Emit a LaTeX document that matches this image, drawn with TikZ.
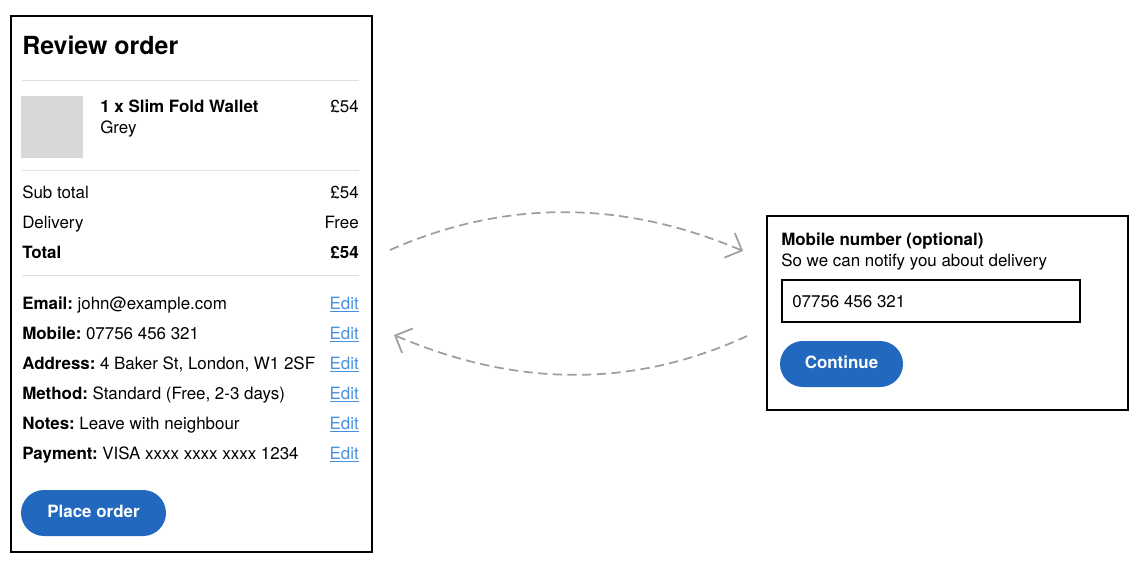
\documentclass[tikz,border=0pt]{standalone}
\usepackage{fontspec}
\setmainfont{TeX Gyre Heros}
\usetikzlibrary{arrows.meta}
\usetikzlibrary{positioning}

\definecolor{btnblue}{HTML}{2268BE}
\definecolor{linkblue}{HTML}{4A90E2}
\definecolor{rulegrey}{HTML}{E0E0E0}
\definecolor{imggrey}{HTML}{D8D8D8}
\definecolor{flowgrey}{HTML}{9E9E9E}

\tikzset{
  panel/.style={draw=black, line width=1.5pt, inner sep=0pt},
  txt/.style={inner sep=0pt, anchor=base west, font=\fontsize{12.7}{15}\selectfont},
  bold/.style={txt, font=\fontsize{12.7}{15}\selectfont\bfseries},
  val/.style={txt, anchor=base east},
  edit/.style={val, text=linkblue},
  sep/.style={draw=rulegrey, line width=0.75pt},
  btn/.style={fill=btnblue, text=white, rounded corners=17.25pt, minimum height=34.5pt, inner sep=0pt, text height=9pt, text depth=3pt, font=\fontsize{12.7}{15}\selectfont\bfseries},
  flow/.style={draw=flowgrey, line width=1.3pt, dash pattern=on 7pt off 4pt, -{Straight Barb[length=10pt,width=20pt]}}
}

\begin{document}
\begin{tikzpicture}[x=0.75pt, y=-0.75pt]
    \useasboundingbox (0,0) rectangle (1146,567);

    % review page
    \node (review) [panel, minimum width=270.75pt, minimum height=402pt] at (191.5,284) {};
    \node (title) [txt, font=\fontsize{18.7}{22}\selectfont\bfseries] at (22,54.5) {Review order};
    \draw [sep] (22,81) -- (359,81);

    \node (img) [fill=imggrey, minimum width=46.5pt, minimum height=46.5pt, inner sep=0pt, anchor=north west] at (21,96) {};
    \node (item) [bold] at (100,112.5) {1 x Slim Fold Wallet};
    \node (colour) [txt] at (100,133) {Grey};
    \node (price) [val] at (359,112.5) {£54};
    \draw [sep] (22,170) -- (359,170);

    \node (sub) [txt] at (22,198.5) {Sub total};
    \node (subv) [val] at (359,198.5) {£54};
    \node (del) [txt] at (22,228.5) {Delivery};
    \node (delv) [val] at (359,228.5) {Free};
    \node (tot) [bold] at (22,258) {Total};
    \node (totv) [val, font=\fontsize{12.7}{15}\selectfont\bfseries] at (359,258) {£54};
    \draw [sep] (22,275) -- (359,275);

    \node (email) [txt] at (22,309) {\textbf{Email:}\hspace{3.4pt}john@example.com};
    \node (email-e) [edit] at (359,309) {\underline{Edit}};
    \node (mob) [txt] at (22,339) {\textbf{Mobile:}\hspace{3.4pt}07756 456 321};
    \node (mob-e) [edit] at (359,339) {\underline{Edit}};
    \node (addr) [txt] at (22,369) {\textbf{Address:}\hspace{3.4pt}4 Baker St, London, W1 2SF};
    \node (addr-e) [edit] at (359,369) {\underline{Edit}};
    \node (meth) [txt] at (22,399) {\textbf{Method:}\hspace{3.4pt}Standard (Free, 2-3 days)};
    \node (meth-e) [edit] at (359,399) {\underline{Edit}};
    \node (notes) [txt] at (22,429) {\textbf{Notes:}\hspace{3.4pt}Leave with neighbour};
    \node (notes-e) [edit] at (359,429) {\underline{Edit}};
    \node (pay) [txt] at (22,459) {\textbf{Payment:}\hspace{3.4pt}VISA xxxx xxxx xxxx 1234};
    \node (pay-e) [edit] at (359,459) {\underline{Edit}};

    \node (place) [btn, minimum width=108.75pt] at (93.5,513) {Place order};

    % mobile page
    \node (mobpanel) [panel, minimum width=270.75pt, minimum height=145.5pt] at (947.5,312.5) {};
    \node (label) [bold] at (781,245) {Mobile number (optional)};
    \node (hint) [txt] at (781,266.5) {So we can notify you about delivery};
    \node (field) [draw=black, line width=1.5pt, minimum width=223.5pt, minimum height=31.5pt, inner sep=0pt] at (931,301) {};
    \node (fieldtxt) [txt] at (792,307) {07756 456 321};
    \node (cont) [btn, minimum width=92.25pt] at (841.5,364) {Continue};

    % flow between the pages
    \coordinate (toMob) at (390,250);
    \coordinate (atMob) at (743,251);
    \coordinate (fromMob) at (747,336);
    \coordinate (atReview) at (394,335);

    \draw [flow] (toMob) .. controls (504.7,199.3) and (622.3,199.7) .. (atMob);
    \draw [flow] (fromMob) .. controls (634.3,388) and (516.7,387.7) .. (atReview);
  \end{tikzpicture}
\end{document}
